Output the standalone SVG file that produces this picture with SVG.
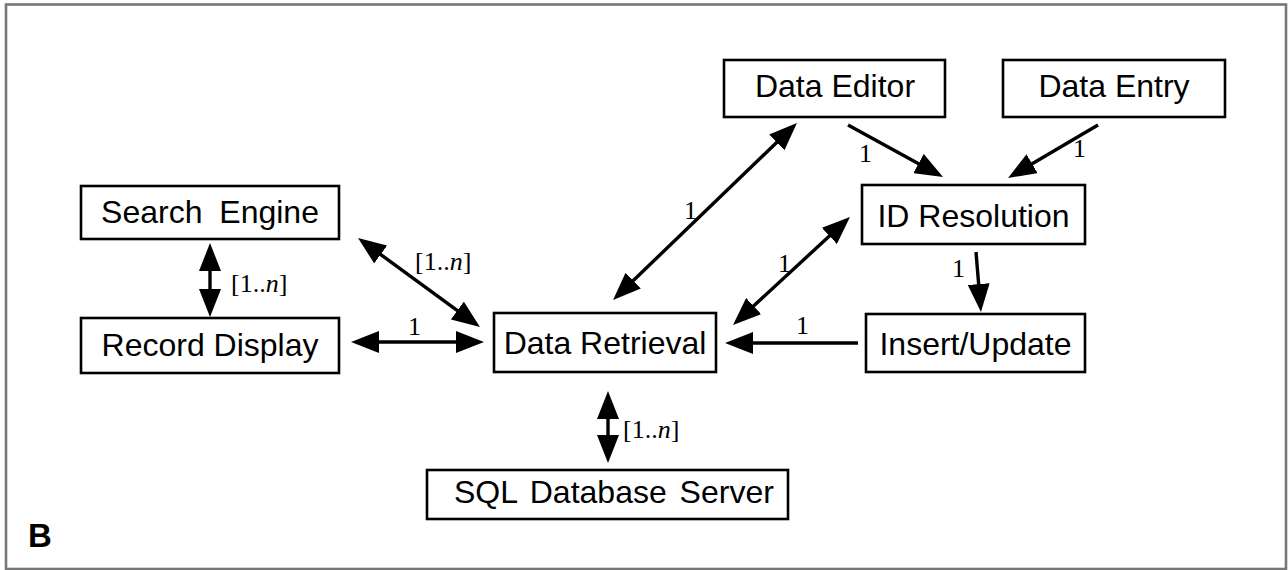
<svg xmlns="http://www.w3.org/2000/svg" width="1288" height="570" viewBox="0 0 1288 570">
<style>
.box{fill:#fff;stroke:#000;stroke-width:2.6}
.nt{font-family:"Liberation Sans",Arial,sans-serif;font-size:32px;fill:#000;text-anchor:middle}
.ln{fill:none;stroke:#000;stroke-width:3.4;stroke-linecap:butt}
.lb{font-family:"Liberation Serif","Times New Roman",serif;font-size:26px;fill:#000}
</style>
<defs>
<marker id="ah" markerUnits="userSpaceOnUse" markerWidth="28" markerHeight="22" refX="20" refY="11" orient="auto-start-reverse">
<path d="M0,0 L28,11 L0,22 z" fill="#000"/>
</marker>
</defs>
<rect x="6" y="4.5" width="1280" height="564.5" fill="#fff" stroke="#777" stroke-width="2.6"/>
<g id="data-editor"><rect class="box" x="724" y="60" width="221" height="57"/><text class="nt" x="835" y="97">Data Editor</text></g>
<g id="data-entry"><rect class="box" x="1003" y="60" width="222" height="57"/><text class="nt" x="1114" y="97">Data Entry</text></g>
<g id="search-engine"><rect class="box" x="81" y="186" width="258" height="53"/><text class="nt" x="210" y="223" word-spacing="8">Search Engine</text></g>
<g id="id-resolution"><rect class="box" x="862" y="185" width="223" height="59"/><text class="nt" x="973.5" y="227">ID Resolution</text></g>
<g id="record-display"><rect class="box" x="81" y="318" width="258" height="55"/><text class="nt" x="210" y="356">Record Display</text></g>
<g id="data-retrieval"><rect class="box" x="494" y="313" width="222" height="59"/><text class="nt" x="605" y="354">Data Retrieval</text></g>
<g id="insert-update"><rect class="box" x="866" y="314" width="219" height="58"/><text class="nt" x="975.5" y="355">Insert/Update</text></g>
<g id="sql-server"><rect class="box" x="427" y="470" width="361" height="49"/><text class="nt" x="454" y="503" style="text-anchor:start" word-spacing="4">SQL Database Server</text></g>
<g id="connectors">
<line class="ln" x1="210" y1="251" x2="210" y2="309" marker-start="url(#ah)" marker-end="url(#ah)"/>
<line class="ln" x1="364.5" y1="242.7" x2="473.5" y2="322.3" marker-start="url(#ah)" marker-end="url(#ah)"/>
<line class="ln" x1="359" y1="342" x2="476" y2="342" marker-start="url(#ah)" marker-end="url(#ah)"/>
<line class="ln" x1="618.8" y1="294.5" x2="791.2" y2="128.5" marker-start="url(#ah)" marker-end="url(#ah)"/>
<line class="ln" x1="738.9" y1="319.6" x2="844.1" y2="222.4" marker-start="url(#ah)" marker-end="url(#ah)"/>
<line class="ln" x1="848" y1="125" x2="936" y2="173.2" marker-end="url(#ah)"/>
<line class="ln" x1="1098" y1="125" x2="1014.9" y2="173.9" marker-end="url(#ah)"/>
<line class="ln" x1="976" y1="252" x2="980.3" y2="304" marker-end="url(#ah)"/>
<line class="ln" x1="858" y1="343" x2="733" y2="343" marker-end="url(#ah)"/>
<line class="ln" x1="608" y1="399" x2="608" y2="455" marker-start="url(#ah)" marker-end="url(#ah)"/>
<text class="lb" x="231" y="292">[1..<tspan font-style="italic">n</tspan>]</text>
<text class="lb" x="415" y="270">[1..<tspan font-style="italic">n</tspan>]</text>
<text class="lb" x="408" y="335">1</text>
<text class="lb" x="684" y="219">1</text>
<text class="lb" x="778" y="272">1</text>
<text class="lb" x="859" y="162">1</text>
<text class="lb" x="1073" y="157">1</text>
<text class="lb" x="952" y="277">1</text>
<text class="lb" x="796" y="334">1</text>
<text class="lb" x="623" y="438">[1..<tspan font-style="italic">n</tspan>]</text>
</g>
<text x="28" y="547" font-family="'Liberation Sans',Arial,sans-serif" font-size="33" font-weight="bold">B</text>
</svg>
